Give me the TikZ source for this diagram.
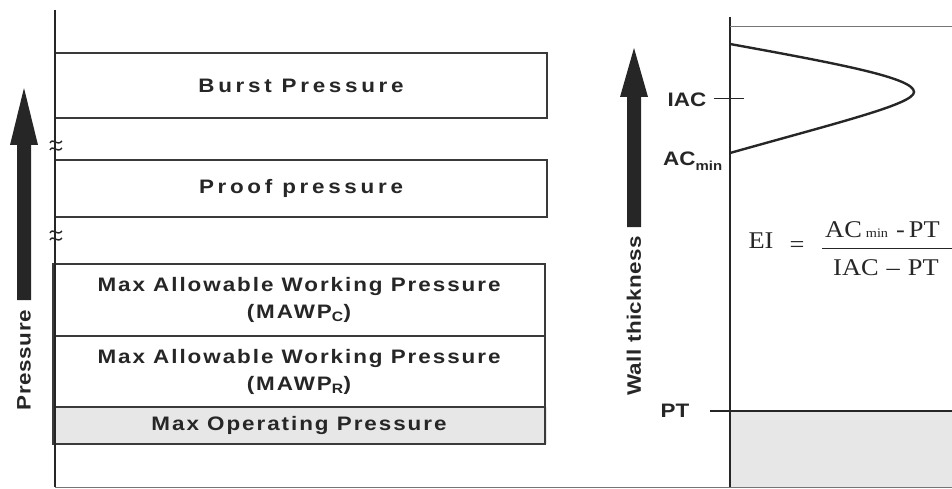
\documentclass[tikz,border=0pt]{standalone}
\usepackage{fontspec}
\setmainfont{Liberation Serif}
\newfontfamily\labfont{Liberation Sans}[FakeStretch=1.15]
\newfontfamily\eqfont{Liberation Serif}[FakeStretch=1.1]
\definecolor{ink}{HTML}{262626}
\definecolor{rule}{HTML}{3A3A3A}
\definecolor{greyfill}{HTML}{E7E7E7}
\newcommand{\spaced}[1]{\addfontfeature{LetterSpace=#1}}
\tikzset{
  levelbox/.style={draw=rule, line width=1.1pt, minimum width=492pt, inner sep=0pt,
    align=center, font=\labfont\bfseries\fontsize{19.5}{27}\selectfont, text=ink},
  axisline/.style={draw=ink, line width=1.8pt},
  thinline/.style={draw=rule!70, line width=0.9pt},
  sidelabel/.style={font=\labfont\bfseries\fontsize{19.5}{20}\selectfont, text=ink, inner sep=0pt},
  eqtext/.style={font=\eqfont\fontsize{24}{26}\selectfont, text=ink, inner sep=0pt},
  bigarrow/.style={fill=ink}
}
% axis break: two small wavy strokes across the axis
\newcommand{\breakmark}[2]{%
  \draw[ink, line width=1.4pt] (#1-5,#2-2) .. controls (#1-2,#2-8) and (#1+2,#2+2) .. (#1+7,#2-4);
  \draw[ink, line width=1.4pt] (#1-5,#2+5) .. controls (#1-2,#2-1) and (#1+2,#2+9) .. (#1+7,#2+3);
}
\begin{document}
\begin{tikzpicture}[x=1pt,y=-1pt]
\useasboundingbox (0,0) rectangle (952,489);

% ---------- pressure levels ----------
\fill[greyfill] (55,407) rectangle (547,444);
\node[levelbox, minimum height=65pt] (burst) at (301,85.5) {\spaced{19}Burst Pressure};
\node[levelbox, minimum height=57pt] (proof) at (301,188.5) {\spaced{19}Proof pressure};
\node[levelbox, minimum height=72pt] (mawpc) at (299,300) {\spaced{10}Max Allowable Working Pressure\\\spaced{10}(MAWP\textsubscript{C})};
\node[levelbox, minimum height=71pt] (mawpr) at (299,371.5) {\spaced{10}Max Allowable Working Pressure\\\spaced{10}(MAWP\textsubscript{R})};
\node[levelbox, minimum height=37pt] (mop) at (299,425.5) {\spaced{10}Max Operating Pressure};

\coordinate (ltop) at (55,10);
\coordinate (lbot) at (55,487);
\draw[axisline] (ltop) -- (lbot);
\breakmark{55}{145}
\breakmark{55}{235}
\coordinate (rend) at (952,487);
\draw[thinline] (lbot) -- (rend);

% pressure arrow and label
\fill[bigarrow] (17,300) -- (17,145) -- (10,145) -- (24,88) -- (38,145) -- (31,145) -- (31,300) -- cycle;
\node[sidelabel, rotate=90] (plabel) at (24,360) {\spaced{3}Pressure};

% ---------- wall thickness panel ----------
\fill[greyfill] (730,411) rectangle (952,487);
\coordinate (rtop) at (730,17);
\coordinate (rbot) at (730,487);
\draw[axisline] (rtop) -- (rbot);
\coordinate (tl) at (730,26);
\coordinate (tr) at (952,26);
\draw[thinline] (tl) -- (tr);
\coordinate (ptl) at (710,411);
\coordinate (ptr) at (952,411);
\draw[draw=ink, line width=1.2pt] (ptl) -- (ptr);

% distribution of wall thickness
\draw[ink, line width=2.4pt] (730,44) .. controls (840,64) and (914,78) .. (914,92)
      .. controls (914,104) and (840,122) .. (730,153);

\node[sidelabel] (iac) at (687,100) {IAC};
\coordinate (tickl) at (714,99);
\coordinate (tickr) at (744,99);
\draw[draw=ink, line width=1pt] (tickl) -- (tickr);
\node[sidelabel, anchor=base west] (acmin) at (663,166) {AC\raisebox{-5pt}{\fontsize{13}{13}\selectfont min}};
\node[sidelabel] (pt) at (675,411) {PT};

% wall thickness arrow and label
\fill[bigarrow] (627,227) -- (627,97) -- (620,97) -- (634,48) -- (648,97) -- (641,97) -- (641,227) -- cycle;
\node[sidelabel, rotate=90] (wlabel) at (634,316) {\spaced{2}Wall thickness};

% efficiency index
\node[eqtext] (ei) at (761,241) {EI};
\node[eqtext] (eq) at (797,247) {=};
\node[eqtext, anchor=base west] (num) at (825,237) {AC\,{\fontsize{13}{14}\selectfont min}\,\,-\,PT};
\node[eqtext, anchor=base west] (den) at (833,275) {IAC\,\,–\,\,PT};
\coordinate (fl) at (822,248);
\coordinate (fr) at (952,248);
\draw[draw=ink, line width=0.9pt] (fl) -- (fr);
\end{tikzpicture}
\end{document}
